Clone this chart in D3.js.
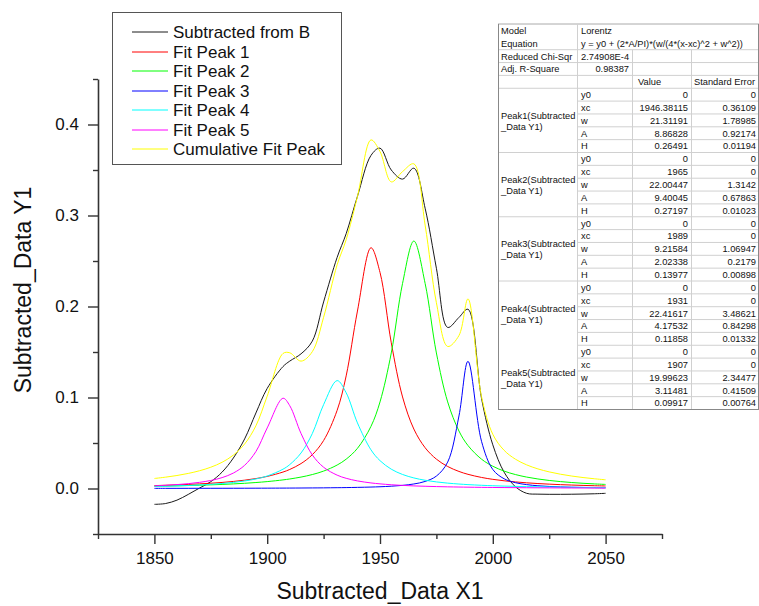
<!DOCTYPE html>
<html>
<head>
<meta charset="utf-8">
<script src="https://cdn.jsdelivr.net/npm/d3@7"></script>
<style>
  body { margin: 0; background: #fff; }
  svg { display: block; font-family: "Liberation Sans", Arial, sans-serif; }
</style>
</head>
<body>
<div id="chart"></div>
<script>
// x positions shared by every series (peak centres sit on the grid)
const X_VALUES = [1850, 1855, 1860, 1865, 1870, 1875, 1880, 1885, 1890, 1895, 1900,
  1907, 1910, 1915, 1920, 1925, 1931, 1935, 1940, 1946, 1950,
  1955, 1960, 1965, 1970, 1975, 1980, 1985, 1989,
  1995, 2000, 2005, 2010, 2015, 2020, 2025, 2030, 2035, 2040, 2045, 2050];

const SUBTRACTED = [-0.0174, -0.0165, -0.0128, -0.0065, 0.0005, 0.0075, 0.0180, 0.0335, 0.0545, 0.0830, 0.1100,
  0.1340, 0.1400, 0.1480, 0.1620, 0.2050, 0.2540, 0.2800, 0.3210, 0.3660, 0.3740,
  0.3500, 0.3400, 0.3520, 0.3080, 0.2420, 0.1770, 0.1880, 0.1970,
  0.0990, 0.0480, 0.0180, 0.0020, -0.0053, -0.0062, -0.0064, -0.0064, -0.0063, -0.0061, -0.0058, -0.0053];

const FIT_PEAK1 = [0.00320, 0.00355, 0.00397, 0.00447, 0.00506, 0.00578, 0.00666, 0.00775, 0.00914, 0.01092, 0.01328,
  0.01807, 0.02093, 0.02739, 0.03716, 0.05271, 0.08592, 0.12376, 0.19501, 0.26457, 0.23750,
  0.16013, 0.10059, 0.06536, 0.04480, 0.03225, 0.02418, 0.01874, 0.01559,
  0.01214, 0.01007, 0.00847, 0.00723, 0.00624, 0.00544, 0.00478, 0.00423, 0.00378, 0.00339, 0.00306, 0.00277];

const FIT_PEAK2 = [0.00247, 0.00269, 0.00295, 0.00325, 0.00360, 0.00401, 0.00448, 0.00505, 0.00573, 0.00656, 0.00758,
  0.00945, 0.01047, 0.01256, 0.01534, 0.01913, 0.02578, 0.03224, 0.04413, 0.06830, 0.09514,
  0.14894, 0.22542, 0.27197, 0.22542, 0.14894, 0.09514, 0.06318, 0.04723,
  0.03224, 0.02446, 0.01913, 0.01534, 0.01256, 0.01047, 0.00885, 0.00758, 0.00656, 0.00573, 0.00505, 0.00448];

const FIT_PEAK3 = [0.00015, 0.00017, 0.00018, 0.00019, 0.00021, 0.00023, 0.00025, 0.00027, 0.00030, 0.00034, 0.00037,
  0.00044, 0.00047, 0.00054, 0.00062, 0.00072, 0.00088, 0.00101, 0.00123, 0.00159, 0.00192,
  0.00252, 0.00344, 0.00497, 0.00776, 0.01366, 0.02903, 0.07971, 0.13977,
  0.05186, 0.02087, 0.01071, 0.00642, 0.00426, 0.00302, 0.00225, 0.00174, 0.00139, 0.00113, 0.00094, 0.00079];

const FIT_PEAK4 = [0.00223, 0.00252, 0.00288, 0.00332, 0.00387, 0.00457, 0.00546, 0.00665, 0.00825, 0.01048, 0.01371,
  0.02123, 0.02629, 0.03903, 0.06040, 0.09217, 0.11858, 0.10518, 0.07209, 0.04249, 0.03061,
  0.02123, 0.01541, 0.01162, 0.00905, 0.00723, 0.00590, 0.00490, 0.00427,
  0.00353, 0.00305, 0.00266, 0.00234, 0.00207, 0.00185, 0.00166, 0.00150, 0.00136, 0.00124, 0.00114, 0.00104];

const FIT_PEAK5 = [0.00296, 0.00354, 0.00429, 0.00532, 0.00675, 0.00882, 0.01196, 0.01698, 0.02549, 0.04063, 0.06655,
  0.09917, 0.09098, 0.06046, 0.03686, 0.02338, 0.01467, 0.01121, 0.00834, 0.00612, 0.00509,
  0.00412, 0.00341, 0.00286, 0.00244, 0.00210, 0.00183, 0.00160, 0.00145,
  0.00126, 0.00113, 0.00102, 0.00093, 0.00084, 0.00077, 0.00071, 0.00065, 0.00060, 0.00056, 0.00052, 0.00048];

const CUMULATIVE = [0.01101, 0.01248, 0.01428, 0.01656, 0.01949, 0.02340, 0.02881, 0.03670, 0.04891, 0.06892, 0.10149,
  0.14836, 0.14914, 0.13998, 0.15038, 0.18811, 0.24583, 0.27341, 0.32080, 0.38306, 0.37027,
  0.33693, 0.34826, 0.35678, 0.28947, 0.20417, 0.15608, 0.16813, 0.20831,
  0.10103, 0.05957, 0.04199, 0.03226, 0.02597, 0.02154, 0.01825, 0.01570, 0.01368, 0.01205, 0.01070, 0.00957];

const SERIES_NAMES = ['Subtracted from B', 'Fit Peak 1', 'Fit Peak 2', 'Fit Peak 3', 'Fit Peak 4', 'Fit Peak 5', 'Cumulative Fit Peak'];
const SERIES_VALUES = [SUBTRACTED, FIT_PEAK1, FIT_PEAK2, FIT_PEAK3, FIT_PEAK4, FIT_PEAK5, CUMULATIVE];
const SERIES_COLORS = ['#1a1a1a', '#ff0000', '#00ff00', '#0000ff', '#00ffff', '#ff00ff', '#ffff00'];

const X_TICKS = [1850, 1900, 1950, 2000, 2050];
const X_MINOR = [1825, 1875, 1925, 1975, 2025, 2075];
const Y_TICKS = [0, 0.1, 0.2, 0.3, 0.4];
const Y_MINOR = [-0.05, 0.05, 0.15, 0.25, 0.35, 0.45];

// fit report table
const FIT_MODEL = 'Lorentz';
const FIT_EQUATION = 'y = y0 + (2*A/PI)*(w/(4*(x-xc)^2 + w^2))';
const CHI_SQR = '2.74908E-4';
const ADJ_R2 = '0.98387';
const PARAM_NAMES = ['y0', 'xc', 'w', 'A', 'H'];
const PEAK_LABELS = ['Peak1', 'Peak2', 'Peak3', 'Peak4', 'Peak5'];
const PEAK_VALUES = [
  ['0', '1946.38115', '21.31191', '8.86828', '0.26491'],
  ['0', '1965', '22.00447', '9.40045', '0.27197'],
  ['0', '1989', '9.21584', '2.02338', '0.13977'],
  ['0', '1931', '22.41617', '4.17532', '0.11858'],
  ['0', '1907', '19.99623', '3.11481', '0.09917'],
];
const PEAK_ERRORS = [
  ['0', '0.36109', '1.78985', '0.92174', '0.01194'],
  ['0', '0', '1.3142', '0.67863', '0.01023'],
  ['0', '0', '1.06947', '0.2179', '0.00898'],
  ['0', '0', '3.48621', '0.84298', '0.01332'],
  ['0', '0', '2.34477', '0.41509', '0.00764'],
];

const W = 759, H = 606;
const svg = d3.select('#chart').append('svg').attr('width', W).attr('height', H);

const x = d3.scaleLinear().domain([1825, 2075]).range([98, 662]);
const y = d3.scaleLinear().domain([-0.05, 0.45]).range([534, 79]);

// axes
const axisColor = '#333';
svg.append('g').attr('transform', 'translate(0,' + y(-0.05) + ')')
  .call(d3.axisBottom(x).tickValues(X_TICKS).tickSize(10).tickSizeOuter(0).tickPadding(8).tickFormat(d3.format('d')));
svg.append('g').attr('transform', 'translate(0,' + y(-0.05) + ')')
  .call(d3.axisBottom(x).tickValues(X_MINOR).tickSize(5).tickFormat(''))
  .call(g => g.select('.domain').remove());

svg.append('g').attr('transform', 'translate(' + x(1825) + ',0)')
  .call(d3.axisLeft(y).tickValues(Y_TICKS).tickSize(10).tickSizeOuter(0).tickPadding(9).tickFormat(d3.format('.1f')));
svg.append('g').attr('transform', 'translate(' + x(1825) + ',0)')
  .call(d3.axisLeft(y).tickValues(Y_MINOR).tickSize(5).tickFormat(''))
  .call(g => g.select('.domain').remove());

svg.selectAll('.domain').attr('stroke', axisColor).attr('stroke-width', 1.6);
svg.selectAll('.tick line').attr('stroke', axisColor).attr('stroke-width', 1.4);
svg.selectAll('.tick text').attr('font-size', 17).attr('fill', '#111')
  .attr('font-family', '"Liberation Sans", Arial, sans-serif');

svg.append('text')
  .attr('x', 380).attr('y', 599)
  .attr('text-anchor', 'middle')
  .attr('font-size', 23).attr('fill', '#111')
  .text('Subtracted_Data X1');

svg.append('text')
  .attr('transform', 'translate(31,' + 290 + ') rotate(-90)')
  .attr('text-anchor', 'middle')
  .attr('font-size', 23).attr('fill', '#111')
  .text('Subtracted_Data Y1');

// curves
const line = d3.line().curve(d3.curveCatmullRom);
SERIES_VALUES.forEach((vals, i) => {
  svg.append('path')
    .attr('d', line(X_VALUES.map((xv, j) => [x(xv), y(vals[j])])))
    .attr('fill', 'none')
    .attr('stroke', SERIES_COLORS[i])
    .attr('stroke-width', 1);
});

// legend
const legend = svg.append('g');
legend.append('rect')
  .attr('x', 112.5).attr('y', 12.5).attr('width', 229).attr('height', 152)
  .attr('fill', '#fff').attr('stroke', '#555').attr('stroke-width', 1);
SERIES_NAMES.forEach((name, i) => {
  const ly = Math.round(32 + i * 19.5);
  legend.append('line').attr('x1', 132).attr('x2', 168).attr('y1', ly).attr('y2', ly)
    .attr('stroke', SERIES_COLORS[i]).attr('stroke-width', 1);
  legend.append('text').attr('x', 173).attr('y', ly + 6)
    .attr('font-size', 17).attr('fill', '#111').text(name);
});

// fit report table
const COLS = [498, 577, 632, 691, 759];
const TOP = 24, ROW = 12.85, NROWS = 30;
const rowY = r => TOP + r * ROW;
const table = svg.append('g').attr('font-size', 9.3).attr('fill', '#111');
table.append('rect').attr('x', COLS[0]).attr('y', TOP).attr('width', COLS[4] - COLS[0]).attr('height', NROWS * ROW).attr('fill', '#fff');

const gridColor = '#d0d0d0';
function hline(r, x1, x2, color) {
  table.append('line').attr('x1', x1).attr('x2', x2).attr('y1', rowY(r)).attr('y2', rowY(r))
    .attr('stroke', color || gridColor).attr('stroke-width', 1);
}
function vline(xp, r1, r2, color) {
  table.append('line').attr('x1', xp).attr('x2', xp).attr('y1', rowY(r1)).attr('y2', rowY(r2))
    .attr('stroke', color || gridColor).attr('stroke-width', 1);
}
function cell(r, text, xp, anchor) {
  table.append('text').attr('x', xp).attr('y', rowY(r) + ROW / 2 + 3.4)
    .attr('text-anchor', anchor || 'start').text(text);
}

hline(0, COLS[0], COLS[4], '#aaa');
[2, 3, 4, 5, 10, 15, 20].forEach(r => hline(r, COLS[0], COLS[4]));
for (let r = 6; r < NROWS; r++) if (r % 5 !== 0 || r === 25) hline(r, COLS[1], COLS[4]);
vline(COLS[1] + 0.5, 0, NROWS);
vline(COLS[2] + 0.5, 2, NROWS);
vline(COLS[3] + 0.5, 2, NROWS);
vline(COLS[0] + 0.5, 0, NROWS, '#888');
vline(COLS[4] - 0.5, 0, NROWS, '#888');
hline(NROWS, COLS[0], COLS[4], '#888');

cell(0, 'Model', COLS[0] + 3);
cell(0, FIT_MODEL, COLS[1] + 4);
cell(1, 'Equation', COLS[0] + 3);
cell(1, FIT_EQUATION, COLS[1] + 4);
cell(2, 'Reduced Chi-Sqr', COLS[0] + 3);
cell(2, CHI_SQR, COLS[1] + 4);
cell(3, 'Adj. R-Square', COLS[0] + 3);
cell(3, ADJ_R2, COLS[2] - 3, 'end');
cell(4, 'Value', COLS[2] + 6);
cell(4, 'Standard Error', COLS[3] + 3);

PEAK_LABELS.forEach((p, k) => {
  const r0 = 5 + k * 5;
  const mid = rowY(r0) + 2.5 * ROW;
  table.append('text').attr('x', COLS[0] + 3).attr('y', mid - 1.5).text(p + '(Subtracted');
  table.append('text').attr('x', COLS[0] + 3).attr('y', mid + 9.5).text('_Data Y1)');
  PARAM_NAMES.forEach((name, j) => {
    cell(r0 + j, name, COLS[1] + 4);
    cell(r0 + j, PEAK_VALUES[k][j], COLS[3] - 3, 'end');
    cell(r0 + j, PEAK_ERRORS[k][j], COLS[4] - 3, 'end');
  });
});
</script>
</body>
</html>
